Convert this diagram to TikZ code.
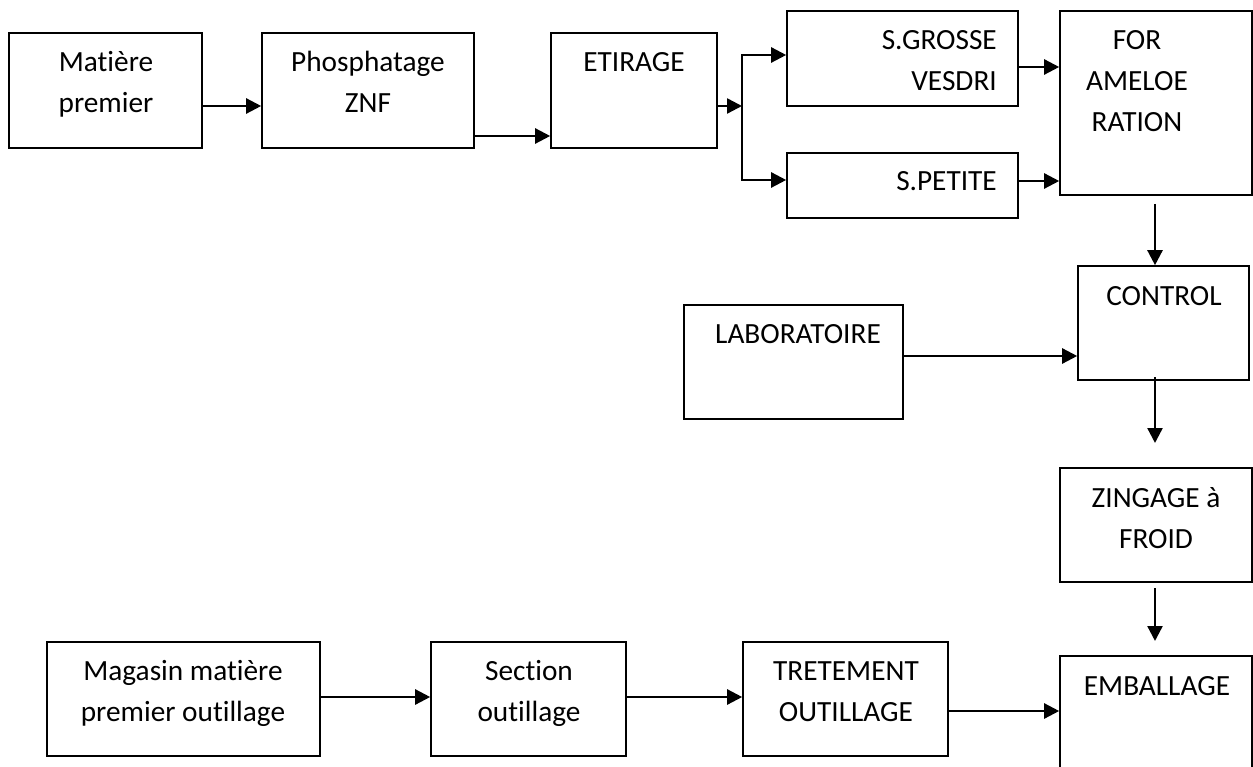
\documentclass[tikz,border=0pt]{standalone}
\usepackage{fontspec}
\setmainfont{Carlito}[Ligatures=NoCommon]
\usetikzlibrary{arrows.meta}
\begin{document}
\begin{tikzpicture}[x=1pt,y=-1pt,
  box/.style={draw, line width=1.6pt, rectangle, inner sep=0pt},
  lbl/.style={font=\fontsize{29.3}{41}\selectfont, align=center, inner sep=0pt, anchor=base},
  arr/.style={line width=2.4pt, -{Triangle[length=15pt,width=15pt]}},
  barr/.style={line width=2.4pt, {Triangle[length=15pt,width=15pt]}-{Triangle[length=15pt,width=15pt]}}]
\useasboundingbox (0,0) rectangle (1253,767);
\fill[white] (0,0) rectangle (1253,767);
\clip (0,0) rectangle (1253,767);
% boxes
\node[box, minimum width=193pt, minimum height=115pt] (mat) at (105.5,90.5) {};
\node[box, minimum width=212pt, minimum height=115pt] (phos) at (368,90.5) {};
\node[box, minimum width=166pt, minimum height=115pt] (etir) at (634,90.5) {};
\node[box, minimum width=231pt, minimum height=95pt] (sg) at (902.5,58.5) {};
\node[box, minimum width=231pt, minimum height=65pt] (sp) at (902.5,185.5) {};
\node[box, minimum width=192pt, minimum height=184pt] (for) at (1156,103) {};
\node[box, minimum width=171pt, minimum height=114pt] (ctrl) at (1163.5,323) {};
\node[box, minimum width=219pt, minimum height=114pt] (lab) at (793.5,362) {};
\node[box, minimum width=192pt, minimum height=114pt] (zing) at (1156,525) {};
\node[box, minimum width=192pt, minimum height=160pt] (emb) at (1156,736) {};
\node[box, minimum width=273pt, minimum height=114pt] (mag) at (183.5,699) {};
\node[box, minimum width=195pt, minimum height=114pt] (sec) at (528.5,699) {};
\node[box, minimum width=205pt, minimum height=114pt] (tret) at (845.5,699) {};
% texts (anchor base = baseline of the last line)
\node[lbl] (tmat) at (106,113) {Matière\\premier};
\node[lbl] (tphos) at (368,113) {Phosphatage\\ZNF};
\node[lbl] (tetir) at (634,72) {ETIRAGE};
\node[lbl, align=right, anchor=base east] (tsg) at (997,91) {S.GROSSE\\VESDRI};
\node[lbl, anchor=base east] (tsp) at (997,191) {S.PETITE};
\node[lbl] (tfor) at (1137,132) {FOR\\AMELOE\\RATION};
\node[lbl] (tctrl) at (1164,306) {CONTROL};
\node[lbl] (tlab) at (798,344) {LABORATOIRE};
\node[lbl] (tzing) at (1156,548) {ZINGAGE à\\FROID};
\node[lbl] (temb) at (1157,695) {EMBALLAGE};
\node[lbl] (tmag) at (183,721) {Magasin matière\\premier outillage};
\node[lbl] (tsec) at (529,721) {Section\\outillage};
\node[lbl] (ttret) at (846,721) {TRETEMENT\\OUTILLAGE};
% helper coordinates
\coordinate (r106) at (0,106);
\coordinate (r136) at (0,136);
\coordinate (br) at (742,106);
\coordinate (r55) at (0,55);
\coordinate (r180) at (0,180);
\coordinate (r67) at (0,67);
\coordinate (r181) at (0,181);
\coordinate (r356) at (0,356);
\coordinate (r697) at (0,697);
\coordinate (r711) at (0,711);
\coordinate (v1s) at (1155,204);
\coordinate (v2s) at (1155,377);
\coordinate (v2e) at (1155,443);
\coordinate (v3s) at (1155,588);
\coordinate (v3e) at (1155,641);
% connectors
\draw[arr] (mat.east |- r106) -- (phos.west |- r106);
\draw[arr] (phos.east |- r136) -- (etir.west |- r136);
\draw[arr] (etir.east |- r106) -- (br);
\draw[barr] (sg.west |- r55) -- (br |- r55) -- (br |- r180) -- (sp.west |- r180);
\draw[arr] (sg.east |- r67) -- (for.west |- r67);
\draw[arr] (sp.east |- r181) -- (for.west |- r181);
\draw[arr] (v1s) -- (v1s |- ctrl.north);
\draw[arr] (lab.east |- r356) -- (ctrl.west |- r356);
\draw[arr] (v2s) -- (v2e);
\draw[arr] (v3s) -- (v3e);
\draw[arr] (mag.east |- r697) -- (sec.west |- r697);
\draw[arr] (sec.east |- r697) -- (tret.west |- r697);
\draw[arr] (tret.east |- r711) -- (emb.west |- r711);
\end{tikzpicture}
\end{document}
